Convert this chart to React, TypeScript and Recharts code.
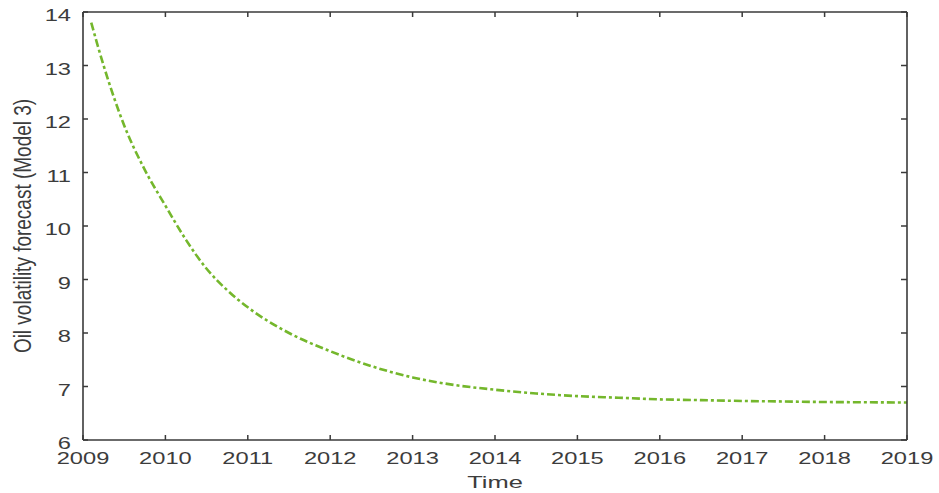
import { LineChart, Line, XAxis, YAxis } from 'recharts'

// forecast path, years and values
const years = [
  2009.1, 2009.25, 2009.5, 2009.75, 2010, 2010.25, 2010.5, 2010.75, 2011, 2011.5, 2012, 2012.5,
  2013, 2013.5, 2014, 2014.5, 2015, 2015.5, 2016, 2016.5, 2017, 2017.5, 2018, 2018.5, 2019,
]
const forecast = [
  13.8, 13.0, 11.88, 11.05, 10.38, 9.74, 9.2, 8.8, 8.48, 8.0, 7.66, 7.38,
  7.17, 7.03, 6.94, 6.87, 6.82, 6.79, 6.76, 6.745, 6.73, 6.72, 6.71, 6.705, 6.7,
]
const yearTicks = [2009, 2010, 2011, 2012, 2013, 2014, 2015, 2016, 2017, 2018, 2019]
const valueTicks = [6, 7, 8, 9, 10, 11, 12, 13, 14]

const data = years.map((t, i) => ({ t, v: forecast[i] }))

const FONT = '"Liberation Sans", Arial, sans-serif'
const AXIS = '#3a3a3a'
const TEXT = '#3c3c3c'
const WIDE = 1.48 // text in this figure is set wide

// ticks point into the plot box; labels sit outside
const XTick = ({ x, y, payload }: any) => (
  <g>
    <line x1={x} y1={y} x2={x} y2={y - 5} stroke={AXIS} strokeWidth={1.5} />
    <text
      transform={`translate(${x},${y + 18}) scale(${WIDE},1)`}
      textAnchor="middle"
      dy="0.36em"
      fontSize={16}
      fontFamily={FONT}
      fill={TEXT}
    >
      {payload.value}
    </text>
  </g>
)

const TopTick = ({ x, y }: any) => (
  <line x1={x} y1={y} x2={x} y2={y + 5} stroke={AXIS} strokeWidth={1.5} />
)

const YTick = ({ x, y, payload }: any) => (
  <g>
    <line x1={x} y1={y} x2={x + 5} y2={y} stroke={AXIS} strokeWidth={1.5} />
    <text
      transform={`translate(${x - 12},${y}) scale(${WIDE},1)`}
      textAnchor="end"
      dy={9}
      fontSize={16}
      fontFamily={FONT}
      fill={TEXT}
    >
      {payload.value}
    </text>
  </g>
)

const RightTick = ({ x, y }: any) => (
  <line x1={x} y1={y} x2={x - 6} y2={y} stroke={AXIS} strokeWidth={1.5} />
)

const TimeLabel = ({ viewBox }: any) => {
  const { x, y, width } = viewBox
  return (
    <text
      transform={`translate(${x + width / 2},${y + 48}) scale(1.5,1)`}
      textAnchor="middle"
      fontSize={17}
      fontFamily={FONT}
      fill={TEXT}
    >
      Time
    </text>
  )
}

const ValueLabel = ({ viewBox }: any) => {
  const { y, height } = viewBox
  return (
    <text
      transform={`translate(22,${y + height / 2}) rotate(-90) scale(1,1.3)`}
      textAnchor="middle"
      dy="0.36em"
      fontSize={19}
      fontFamily={FONT}
      fill={TEXT}
    >
      Oil volatility forecast (Model 3)
    </text>
  )
}

export default function App() {
  return (
    <div style={{ position: 'absolute', left: 0, top: 0, background: '#fff' }}>
      <LineChart width={939} height={493} data={data} margin={{ top: 11, right: 31, bottom: 0, left: 0 }}>
        <XAxis
          dataKey="t"
          type="number"
          domain={[2009, 2019]}
          ticks={yearTicks}
          allowDataOverflow
          height={53}
          tickSize={0}
          tickMargin={0}
          tickLine={false}
          tick={<XTick />}
          stroke={AXIS}
          strokeWidth={1.6}
          label={<TimeLabel />}
        />
        <XAxis
          xAxisId="top"
          orientation="top"
          dataKey="t"
          type="number"
          domain={[2009, 2019]}
          ticks={yearTicks}
          allowDataOverflow
          height={1}
          tickSize={0}
          tickMargin={0}
          tickLine={false}
          tick={<TopTick />}
          stroke={AXIS}
          strokeWidth={1.6}
        />
        <YAxis
          type="number"
          domain={[6, 14]}
          ticks={valueTicks}
          allowDataOverflow
          width={83}
          tickSize={0}
          tickMargin={0}
          tickLine={false}
          tick={<YTick />}
          stroke={AXIS}
          strokeWidth={1.6}
          label={<ValueLabel />}
        />
        <YAxis
          yAxisId="right"
          orientation="right"
          type="number"
          domain={[6, 14]}
          ticks={valueTicks}
          allowDataOverflow
          width={1}
          tickSize={0}
          tickMargin={0}
          tickLine={false}
          tick={<RightTick />}
          stroke={AXIS}
          strokeWidth={1.6}
        />
        <Line
          dataKey="v"
          type="monotone"
          stroke="#74b72c"
          strokeWidth={2.6}
          strokeDasharray="8 3 3 3"
          dot={false}
          isAnimationActive={false}
        />
      </LineChart>
    </div>
  )
}
